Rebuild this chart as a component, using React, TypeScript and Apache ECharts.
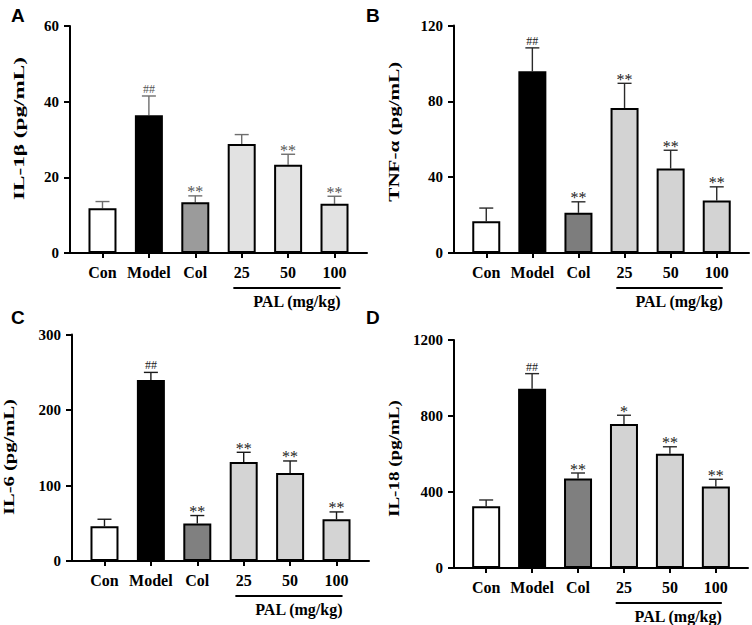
import React, { useEffect, useRef } from "react";
import * as echarts from "echarts";

// ---- data ----
const categories = ["Con", "Model", "Col", "25", "50", "100"];

const il1bMean = [11.8, 36.4, 13.4, 28.8, 23.3, 13.0];
const il1bErr = [1.8, 5.1, 1.7, 2.5, 2.8, 2.0];
const il1bMarks = ["", "##", "**", "", "**", "**"];

const tnfMean = [16.8, 95.9, 21.2, 76.5, 44.6, 27.7];
const tnfErr = [6.9, 12.3, 5.8, 13.0, 9.6, 7.2];
const tnfMarks = ["", "##", "**", "**", "**", "**"];

const il6Mean = [46.0, 239.7, 49.6, 131.2, 116.7, 55.3];
const il6Err = [9.3, 10.1, 10.6, 12.8, 15.8, 9.7];
const il6Marks = ["", "##", "**", "**", "**", "**"];

const il18Mean = [325, 943, 471, 758, 601, 429];
const il18Err = [33, 80, 29, 46, 37, 38];
const il18Marks = ["", "##", "**", "*", "**", "**"];

const yMaxes = [60, 120, 300, 1200];
const yIntervals = [20, 40, 100, 400];
const yNames = ["IL-1β (pg/mL)", "TNF-α (pg/mL)", "IL-6 (pg/mL)", "IL-18 (pg/mL)"];
const panelLetters = ["A", "B", "C", "D"];
const palRange = [2.82, 5.13];
const palLabel = "PAL (mg/kg)";

// ---- layout / style ----
const SERIF = "Liberation Serif";
const SANS = "Liberation Sans";

const grids = [
  { left: 70, top: 26, width: 297, height: 227 },
  { left: 454, top: 25.5, width: 295, height: 227.5 },
  { left: 72, top: 334.5, width: 297, height: 226.5 },
  { left: 454, top: 340, width: 294, height: 228 },
];
const barColors = [
  ["#ffffff", "#000000", "#9b9b9b", "#e2e2e2", "#e2e2e2", "#e2e2e2"],
  ["#ffffff", "#000000", "#7d7d7d", "#d3d3d3", "#d3d3d3", "#d3d3d3"],
  ["#ffffff", "#000000", "#808080", "#d4d4d4", "#d4d4d4", "#d4d4d4"],
  ["#ffffff", "#000000", "#7f7f7f", "#d3d3d3", "#d3d3d3", "#d3d3d3"],
];
const errColors = ["#6e6e6e", "#2a2a2a", "#1a1a1a", "#2a2a2a"];
const nameCenters = [
  [19, 128.5, 143],
  [394.5, 131.7, 140],
  [9, 457, 116],
  [394, 458.6, 117],
];
const letterPos = [
  [11, 6],
  [366, 6],
  [11, 308],
  [366, 308],
];

const means = [il1bMean, tnfMean, il6Mean, il18Mean];
const errs = [il1bErr, tnfErr, il6Err, il18Err];
const marks = [il1bMarks, tnfMarks, il6Marks, il18Marks];

function measure(text: string, font: string): number {
  const c = document.createElement("canvas");
  const ctx = c.getContext("2d");
  if (!ctx) return text.length * 7;
  ctx.font = font;
  return ctx.measureText(text).width;
}

export default function App() {
  const ref = useRef<HTMLDivElement>(null);

  useEffect(() => {
    if (!ref.current) return;
    const chart = echarts.init(ref.current, undefined, { renderer: "svg" });

    const tickValues = categories.map((_, i) => i);

    const xAxis = grids.map((_, i) => ({
      type: "value",
      gridIndex: i,
      min: -0.7,
      max: 5.7,
      splitLine: { show: false },
      axisLine: { show: true, onZero: false, lineStyle: { color: "#000", width: 2 } },
      axisTick: { show: true, customValues: tickValues, length: 5, lineStyle: { color: "#000", width: 2 } },
      axisLabel: {
        show: true,
        customValues: tickValues,
        formatter: (v: number) => categories[Math.round(v)] ?? "",
        fontFamily: SERIF,
        fontWeight: "bold",
        fontSize: 16,
        color: "#000",
        margin: 11,
      },
    }));

    const yAxis = grids.map((_, i) => ({
      type: "value",
      gridIndex: i,
      min: 0,
      max: yMaxes[i],
      interval: yIntervals[i],
      splitLine: { show: false },
      axisLine: { show: true, onZero: false, lineStyle: { color: "#000", width: 2 } },
      axisTick: { show: true, length: 6, lineStyle: { color: "#000", width: 2 } },
      axisLabel: {
        formatter: (v: number) => String(v),
        fontFamily: SERIF,
        fontWeight: "bold",
        fontSize: 15,
        color: "#000",
        margin: 11,
      },
    }));

    const series: any[] = [];
    grids.forEach((_, i) => {
      series.push({
        type: "custom",
        xAxisIndex: i,
        yAxisIndex: i,
        z: 1,
        data: means[i].map((m, j) => [j, m, errs[i][j]]),
        encode: { x: 0, y: 1 },
        renderItem: (params: any, api: any) => {
          const x = api.value(0);
          const m = api.value(1);
          const e = api.value(2);
          const p0 = api.coord([x, m]);
          const p1 = api.coord([x, m + e]);
          const cap = 7;
          const lineStyle = { stroke: errColors[i], lineWidth: 1.4 };
          const mark = marks[i][params.dataIndex];
          const children: any[] = [
            { type: "line", shape: { x1: p0[0], y1: p0[1], x2: p1[0], y2: p1[1] }, style: lineStyle },
            { type: "line", shape: { x1: p1[0] - cap, y1: p1[1], x2: p1[0] + cap, y2: p1[1] }, style: lineStyle },
          ];
          if (mark) {
            const star = mark.startsWith("*");
            children.push({
              type: "text",
              style: {
                text: mark,
                x: p1[0],
                y: p1[1] + (star ? 4 : -1),
                align: "center",
                verticalAlign: "bottom",
                fontFamily: SERIF,
                fontSize: star ? 16 : 12,
                fill: i === 0 ? "#555" : "#222",
              },
            });
          }
          return { type: "group", children };
        },
      });
      series.push({
        type: "bar",
        xAxisIndex: i,
        yAxisIndex: i,
        z: 2,
        barWidth: 28,
        data: means[i].map((m, j) => ({ value: [j, m], itemStyle: { color: barColors[i][j] } })),
        itemStyle: { borderColor: "#000", borderWidth: 2 },
      });
      series.push({
        type: "custom",
        xAxisIndex: i,
        yAxisIndex: i,
        data: [[palRange[0], palRange[1]]],
        encode: { x: [0, 1] },
        renderItem: (_p: any, api: any) => {
          const a = api.coord([api.value(0), 0]);
          const b = api.coord([api.value(1), 0]);
          const y = a[1] + 35;
          return {
            type: "group",
            children: [
              { type: "line", shape: { x1: a[0], y1: y, x2: b[0], y2: y }, style: { stroke: "#000", lineWidth: 2 } },
              {
                type: "text",
                style: {
                  text: palLabel,
                  x: b[0],
                  y: y + 5,
                  align: "right",
                  verticalAlign: "top",
                  fontFamily: SERIF,
                  fontWeight: "bold",
                  fontSize: 16,
                  fill: "#000",
                },
              },
            ],
          };
        },
      });
    });

    const nameFont = `bold 14px ${SERIF}`;
    const graphic: any[] = [];
    yNames.forEach((nm, i) => {
      const w = measure(nm, nameFont);
      const [cx, cy, len] = nameCenters[i];
      graphic.push({
        type: "text",
        x: cx,
        y: cy,
        rotation: Math.PI / 2,
        scaleX: len / w,
        style: {
          text: nm,
          align: "center",
          verticalAlign: "middle",
          fontFamily: SERIF,
          fontWeight: "bold",
          fontSize: 14,
          fill: "#000",
        },
      });
    });
    panelLetters.forEach((l, i) => {
      graphic.push({
        type: "text",
        x: letterPos[i][0],
        y: letterPos[i][1],
        style: {
          text: l,
          align: "left",
          verticalAlign: "top",
          fontFamily: SANS,
          fontWeight: "bold",
          fontSize: 19,
          fill: "#000",
        },
      });
    });

    chart.setOption({
      animation: false,
      backgroundColor: "#ffffff",
      grid: grids.map((g) => ({ ...g, containLabel: false })),
      xAxis,
      yAxis,
      series,
      graphic,
    });

    return () => chart.dispose();
  }, []);

  return (
    <div
      ref={ref}
      style={{ position: "fixed", left: 0, top: 0, width: 752, height: 625, background: "#fff" }}
    />
  );
}
